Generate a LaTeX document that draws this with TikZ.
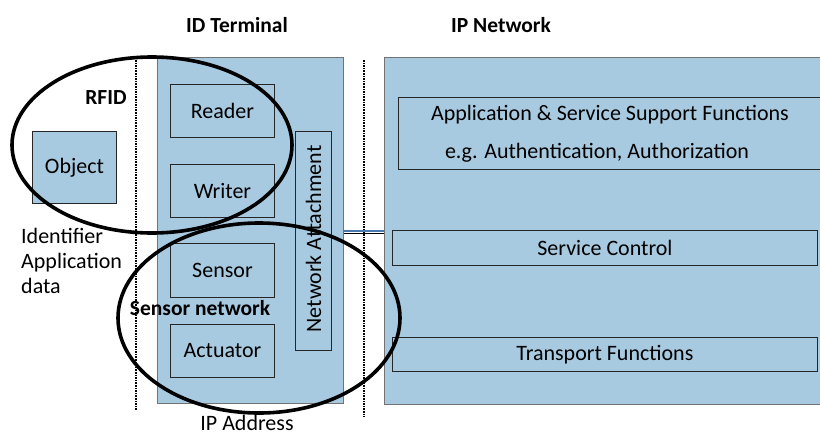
\documentclass[tikz,border=0pt]{standalone}
\usepackage{fontspec}
\setmainfont{Carlito}
\usetikzlibrary{positioning,calc}
\definecolor{boxblue}{RGB}{168,202,224}
\definecolor{linkblue}{RGB}{74,120,176}
\tikzstyle{area}=[draw=black!55,fill=boxblue,line width=0.9pt,inner sep=0pt,anchor=north west]
\tikzstyle{func}=[draw=black!85,fill=boxblue,line width=0.9pt,inner sep=0pt,anchor=north west]
\tikzstyle{ring}=[draw=black,line width=3.6pt]
\tikzstyle{border}=[densely dotted,line width=1.6pt]
\tikzstyle{heading}=[font=\bfseries\fontsize{21.5}{24}\selectfont]

\begin{document}
\begin{tikzpicture}[x=1pt,y=-1pt,font=\fontsize{22}{25}\selectfont]
\useasboundingbox (0,0) rectangle (820,437);
% the two big areas
\node[area,minimum width=186pt,minimum height=346pt] (term) at (157,57) {};
\node[area,minimum width=450pt,minimum height=347pt] (ipnet) at (384,57) {};
\node[heading] (termlbl) at (237,25) {ID Terminal};
\node[heading] (netlbl) at (501,25) {IP Network};
% boundaries
\coordinate (b1top) at (136,60);
\coordinate (b1bot) at (136,411);
\coordinate (b2top) at (364,60);
\coordinate (b2bot) at (364,417);
\draw[border] (b1top) -- (b1bot);
\draw[border] (b2top) -- (b2bot);
% terminal devices
\node[func,minimum width=84pt,minimum height=72pt] (object) at (32,131) {};
\node at (object.center) {Object};
\node[func,minimum width=104pt,minimum height=53pt] (reader) at (170,84) {};
\node[func,minimum width=104pt,minimum height=53pt] (writer) at (170,164) {};
\node[func,minimum width=104pt,minimum height=54pt] (sensor) at (170,243) {};
\node[func,minimum width=104pt,minimum height=53pt] (actuator) at (170,324) {};
\foreach \n/\t in {reader/Reader,writer/Writer,sensor/Sensor,actuator/Actuator}
\node at (\n.center) {\t};
\node[func,minimum width=36pt,minimum height=219pt] (attach) at (295,131) {};
\node[rotate=90] at ($(attach.center)+(0,-2)$) {Network Attachment};
% network functions
\node[func,minimum width=440pt,minimum height=72pt] (appsup) at (398,97) {};
\node at ($(appsup.north west)+(212,18)$) {Application \& Service Support Functions};
\node at ($(appsup.north west)+(199,56)$) {e.g. Authentication, Authorization};
\node[func,minimum width=425pt,minimum height=35pt] (svc) at (392,230) {};
\node at (svc.center) {Service Control};
\node[func,minimum width=425pt,minimum height=34pt] (trans) at (392,337) {};
\node at (trans.center) {Transport Functions};
% link between terminal and network
\draw[linkblue,line width=1.6pt] (term.east |- 0,231) -- (ipnet.west |- 0,231);
\draw[black,line width=1.4pt] (term.east |- 0,233.5) -- (ipnet.west |- 0,233.5);
% side labels
\node[anchor=base west,align=left,inner sep=0pt] (ident) at (21,293) {Identifier\\Application\\data};
\node[anchor=base,inner sep=0pt] (ipaddr) at (247,430) {IP Address};
% groupings
\draw[ring] (152,145) ellipse (140 and 88);
\draw[ring] (259,318) ellipse (141 and 95);
\node[heading] (rfid) at (106,98) {RFID};
\node[heading] (sensnet) at (200,308) {Sensor network};
\end{tikzpicture}
\end{document}
